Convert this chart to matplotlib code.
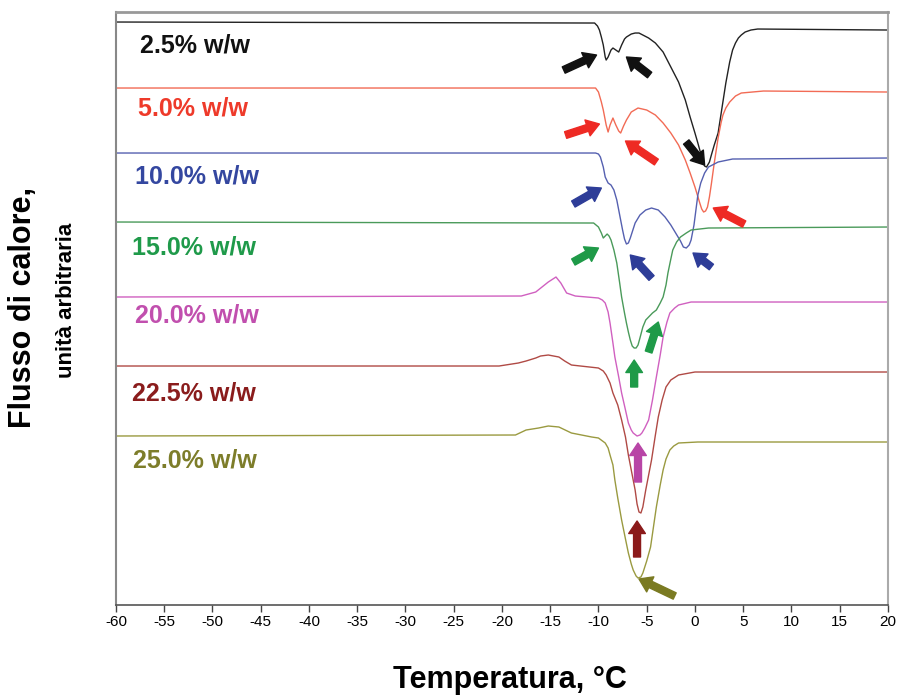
import matplotlib.pyplot as plt
import numpy as np

# DSC thermograms: temperature (°C) vs heat flow (arbitrary units, stacked)
t_25 = [-60, -10.4, -10.1, -9.9, -9.7, -9.5, -9.3, -9.2, -9.0, -8.7, -8.5, -8.2, -7.9, -7.6,
        -7.3, -7.1, -6.6, -6.2, -5.8, -5.4, -4.8, -4.1, -3.3, -2.5, -1.7, -1.0, -0.5, 0.0,
        0.3, 0.5, 0.8, 1.0, 1.2, 1.5, 1.7, 2.0, 2.4, 2.8, 3.2, 3.6, 3.9, 4.2, 4.5, 4.8, 5.2,
        5.8, 6.5, 20]
hf_25 = [583, 582, 579, 575, 568, 560, 548, 545, 548, 555, 557, 555, 553, 560,
         566, 568, 571, 572, 572, 570, 567, 562, 553, 538, 523, 505, 488, 472,
         462, 455, 444, 439, 438, 443, 450, 460, 472, 497, 522, 543, 555, 562, 567, 570, 573,
         575, 576, 575]

t_50 = [-60, -10.3, -10.0, -9.7, -9.5, -9.2, -9.0, -8.8, -8.5, -8.2, -7.9, -7.7, -7.4, -7.1,
        -6.6, -5.9, -5.0, -4.1, -3.3, -2.5, -1.7, -1.0, -0.5, 0.0, 0.5, 0.7, 0.9, 1.1, 1.3,
        1.5, 1.7, 2.0, 2.4, 2.7, 2.9, 3.2, 3.6, 4.2, 4.8, 7.1, 20]
hf_50 = [517, 517, 513, 503, 495, 480, 473, 480, 487, 480, 474, 472, 479, 485,
         493, 497, 495, 490, 482, 472, 460, 445, 432, 418, 402, 396, 393, 394, 398,
         408, 421, 442, 467, 482, 490, 497, 503, 509, 512, 514, 513]

t_100 = [-60, -10.3, -10.0, -9.8, -9.5, -9.3, -9.0, -8.7, -8.4, -8.1, -7.9, -7.5, -7.3, -7.1,
         -6.9, -6.7, -6.2, -5.7, -5.1, -4.5, -3.8, -3.1, -2.5, -2.0, -1.5, -1.2, -0.9, -0.6,
         -0.4, -0.1, 0.1, 0.3, 0.6, 1.0, 1.4, 2.4, 3.9, 20]
hf_100 = [452, 452, 451, 448, 438, 428, 422, 420, 415, 405, 395, 375, 366, 361,
          362, 367, 382, 390, 395, 397, 395, 388, 380, 372, 364, 358, 357, 360,
          365, 380, 395, 410, 422, 432, 438, 443, 446, 447]

t_150 = [-60, -10.5, -10.0, -9.7, -9.5, -9.3, -9.1, -8.9, -8.7, -8.4, -8.1, -7.8, -7.6, -7.3,
         -7.1, -6.9, -6.7, -6.5, -6.3, -6.1, -5.9, -5.7, -5.4, -5.1, -4.8, -4.4, -4.0, -3.6,
         -3.3, -3.0, -2.8, -2.5, -2.3, -1.9, -1.5, -0.9, -0.4, 1.4, 20]
hf_150 = [383, 382, 378, 372, 367, 369, 371, 369, 365, 355, 342, 322, 308, 292,
          282, 273, 265, 259, 257, 257, 260, 267, 278, 285, 288, 292, 295, 302,
          308, 320, 332, 346, 355, 363, 368, 372, 375, 377, 378]

t_200 = [-60, -18.0, -16.5, -15.2, -14.4, -13.9, -13.3, -12.4, -10.0, -9.6, -9.3, -9.0, -8.8,
         -8.5, -8.3, -7.9, -7.6, -7.2, -6.9, -6.6, -6.4, -6.0, -5.7, -5.5, -5.2, -4.8, -4.4,
         -4.0, -3.6, -3.3, -2.9, -2.6, -2.1, -1.7, -0.4, 20]
hf_200 = [308, 309, 313, 323, 328, 322, 312, 309, 307, 305, 302, 293, 282,
          262, 248, 228, 212, 195, 182, 175, 172, 169, 170, 172, 177, 185, 205,
          228, 250, 268, 283, 292, 297, 300, 303, 303]

t_225 = [-60, -20.3, -18.3, -17.5, -16.5, -16.0, -15.2, -14.1, -13.5, -12.8, -10.0, -9.5, -9.2,
         -8.8, -8.5, -8.0, -7.6, -7.2, -6.9, -6.5, -6.2, -6.0, -5.8, -5.6, -5.4, -5.1, -4.8,
         -4.5, -4.1, -3.8, -3.4, -3.0, -2.5, -1.7, 0.0, 20]
hf_225 = [239, 239, 242, 244, 247, 249, 250, 248, 244, 240, 237, 234, 230,
          222, 212, 200, 185, 168, 150, 130, 115, 101, 93, 92, 98, 115, 130,
          145, 170, 188, 205, 218, 225, 230, 233, 233]

t_250 = [-60, -18.6, -17.5, -16.2, -15.2, -14.1, -12.8, -10.7, -10.0, -9.3, -9.0, -8.8, -8.5,
         -8.3, -8.0, -7.6, -7.2, -6.9, -6.6, -6.4, -6.1, -5.9, -5.6, -5.4, -5.0, -4.6, -4.3,
         -4.0, -3.6, -3.3, -3.0, -2.6, -2.2, -1.7, 0.3, 20]
hf_250 = [169, 170, 175, 177, 179, 178, 172, 168, 167, 162, 157, 150, 140,
          125, 107, 85, 66, 52, 41, 35, 29, 27, 28, 32, 44, 58, 78,
          98, 120, 135, 146, 155, 159, 162, 163, 163]

labels = ['2.5% w/w', '5.0% w/w', '10.0% w/w', '15.0% w/w',
          '20.0% w/w', '22.5% w/w', '25.0% w/w']
line_colors = ['#222222', '#f26b55', '#5560b0', '#4a9a5a', '#d060c0', '#b04a45', '#9a9a40']
text_colors = ['#111111', '#ee3a2a', '#3447a0', '#1f9a4a', '#c14fae', '#8a1c1c', '#7d7d2a']
label_pos = [(-57.5, 560), (-57.7, 497), (-58.0, 429), (-58.3, 358),
             (-58.0, 290), (-58.3, 212), (-58.2, 145)]

# arrows marking the thermal events: (tail T, tail hf, head T, head hf, colour)
arrows = [
    (-13.6, 535, -10.2, 550, '#111111'),
    (-4.7, 530, -7.1, 548, '#111111'),
    (-0.9, 463, 1.0, 440, '#111111'),
    (-13.4, 470, -9.9, 481, '#ee2a24'),
    (-4.0, 443, -7.2, 464, '#ee2a24'),
    (5.1, 381, 1.9, 397, '#ee2a24'),
    (-12.6, 401, -9.7, 417, '#2e3d98'),
    (-4.5, 327, -6.7, 350, '#2e3d98'),
    (1.7, 338, -0.2, 352, '#2e3d98'),
    (-12.6, 343, -10.0, 357, '#1f9a48'),
    (-6.3, 218, -6.3, 245, '#1f9a48'),
    (-4.8, 253, -3.8, 283, '#1f9a48'),
    (-5.9, 123, -5.9, 162, '#b845a6'),
    (-6.0, 48, -6.0, 84, '#8b1a1a'),
    (-2.1, 9, -5.8, 26, '#7a7a22'),
]

temps = [t_25, t_50, t_100, t_150, t_200, t_225, t_250]
flows = [hf_25, hf_50, hf_100, hf_150, hf_200, hf_225, hf_250]

fig = plt.figure(figsize=(8.97, 6.95), dpi=100)
ax = fig.add_axes([0.1293, 0.1295, 0.8606, 0.8532])

for t, hf, c in zip(temps, flows, line_colors):
    ax.plot(t, hf, color=c, lw=1.0, solid_joinstyle='round')

for (x, y), lab, c in zip(label_pos, labels, text_colors):
    ax.text(x, y, lab, color=c, fontsize=18, fontweight='bold', va='center',
            family='Liberation Sans')

for x0, y0, x1, y1, c in arrows:
    ax.annotate('', xy=(x1, y1), xytext=(x0, y0),
                arrowprops=dict(arrowstyle='simple,head_length=0.9,head_width=1.2,tail_width=0.5',
                                color=c, shrinkA=0, shrinkB=0, mutation_scale=10))

ax.set_xlim(-60, 20)
ax.set_ylim(0, 593)
ax.set_xticks(np.arange(-60, 21, 5))
ax.set_xticklabels([str(v) for v in range(-60, 21, 5)],
                   family=['Liberation Sans Narrow', 'Liberation Sans'], fontsize=11)
ax.tick_params(axis='x', direction='out', length=5, width=1, pad=2, color='#444444')
ax.set_yticks([])

ax.spines['top'].set_color('#999999')
ax.spines['top'].set_linewidth(2)
ax.spines['right'].set_color('#aaaaaa')
ax.spines['right'].set_linewidth(1.5)
ax.spines['left'].set_color('#888888')
ax.spines['left'].set_linewidth(1.5)
ax.spines['bottom'].set_color('#555555')
ax.spines['bottom'].set_linewidth(1.2)

fig.text(0.568, 0.022, 'Temperatura, °C', fontsize=22, fontweight='bold',
         ha='center', va='center', family='Liberation Sans')
fig.text(0.026, 0.557, 'Flusso di calore,', fontsize=22, fontweight='bold',
         rotation=90, ha='center', va='center', family='Liberation Sans')
fig.text(0.074, 0.568, 'unità arbitraria', fontsize=16, fontweight='bold',
         rotation=90, ha='center', va='center', family='Liberation Sans')

fig.savefig('out.png', dpi=100)
